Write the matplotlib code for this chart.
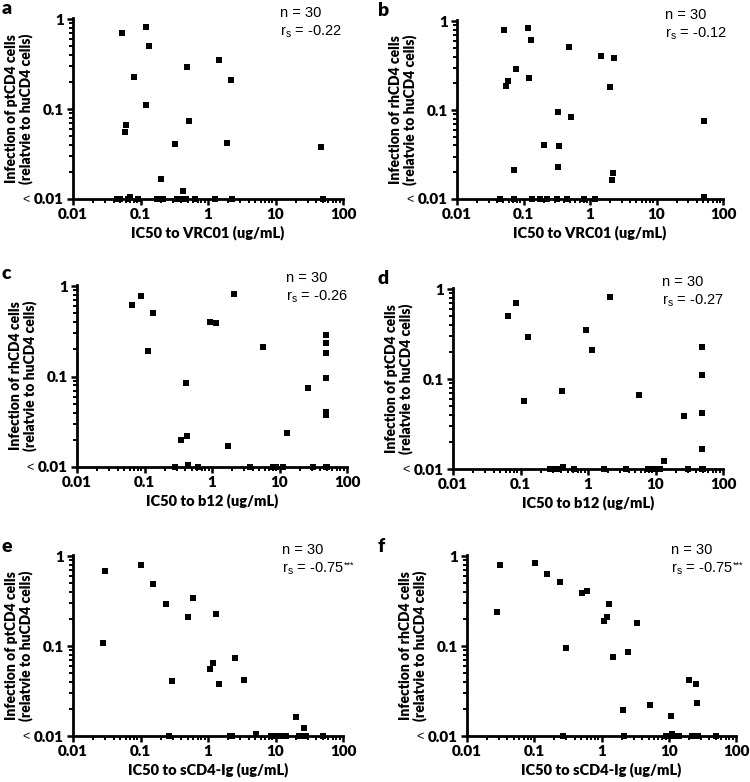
import matplotlib
matplotlib.use("Agg")
import matplotlib.pyplot as plt
from matplotlib.ticker import LogLocator, NullFormatter, FixedLocator, FixedFormatter

# ---------------- data ----------------
LOD = 0.01

# panel a: ptCD4 vs VRC01
a_x = [0.0536, 0.121, 0.134, 0.081, 0.121, 0.060, 0.058, 0.49, 0.52, 0.33, 1.44, 2.2, 1.93, 48,
       0.20, 0.42, 0.070,
       0.045, 0.05, 0.065, 0.093, 0.175, 0.218, 0.344, 0.42, 0.48, 0.64, 1.27, 2.24, 50]
a_y = [0.71, 0.81, 0.50, 0.23, 0.11, 0.067, 0.056, 0.29, 0.074, 0.041, 0.35, 0.21, 0.042, 0.038,
       0.0165, 0.0124, 0.0105,
       0.01, 0.01, 0.01, 0.01, 0.01, 0.01, 0.01, 0.01, 0.01, 0.01, 0.01, 0.01, 0.01]

# panel b: rhCD4 vs VRC01
b_x = [0.0503, 0.117, 0.13, 0.058, 0.055, 0.077, 0.119, 0.49, 1.46, 2.27, 1.98, 0.33, 0.52, 0.206,
       0.34, 0.33, 0.071, 2.2, 2.15, 52, 52,
       0.045, 0.071, 0.134, 0.179, 0.225, 0.32, 0.45, 0.80, 1.2]
b_y = [0.79, 0.83, 0.62, 0.21, 0.185, 0.29, 0.23, 0.51, 0.41, 0.39, 0.18, 0.095, 0.084, 0.040,
       0.039, 0.023, 0.021, 0.0195, 0.0164, 0.075, 0.0105,
       0.01, 0.01, 0.01, 0.01, 0.01, 0.01, 0.01, 0.01, 0.01]

# panel c: rhCD4 vs b12
c_x = [0.066, 0.088, 0.132, 0.113, 2.14, 0.92, 1.15, 0.41, 5.6, 26, 49, 49, 49, 49, 49, 49,
       0.35, 0.42, 1.7, 13, 0.44,
       0.28, 0.62, 3.7, 8.0, 9.0, 11.3, 31, 49, 50]
c_y = [0.62, 0.78, 0.50, 0.19, 0.82, 0.40, 0.39, 0.085, 0.21, 0.075, 0.29, 0.235, 0.18, 0.096, 0.041, 0.038,
       0.0197, 0.0223, 0.017, 0.024, 0.0105,
       0.01, 0.01, 0.01, 0.01, 0.01, 0.01, 0.01, 0.01, 0.01]

# panel d: ptCD4 vs b12
d_x = [0.0656, 0.087, 0.131, 0.113, 2.15, 0.92, 1.16, 0.41, 5.65, 26, 49, 49, 49, 49, 13.2, 0.42,
       0.27, 0.30, 0.33, 0.36, 0.62, 1.73, 3.63, 7.8, 8.8, 10.8, 11.5, 30.8, 48.7, 50]
d_y = [0.50, 0.71, 0.29, 0.057, 0.81, 0.35, 0.21, 0.074, 0.067, 0.039, 0.23, 0.11, 0.042, 0.0165, 0.0123, 0.0105,
       0.01, 0.01, 0.01, 0.01, 0.01, 0.01, 0.01, 0.01, 0.01, 0.01, 0.01, 0.01, 0.01, 0.01]

# panel e: ptCD4 vs sCD4-Ig
e_x = [0.0297, 0.0278, 0.102, 0.152, 0.239, 0.51, 0.59, 1.30, 0.294, 1.20, 1.08, 1.47, 2.5, 3.4,
       20.3, 26.5, 5.2,
       0.26, 2.1, 2.3, 8.5, 9.5, 10.5, 11.5, 13, 14.5, 22, 25, 28, 50]
e_y = [0.69, 0.108, 0.79, 0.49, 0.29, 0.21, 0.34, 0.225, 0.041, 0.065, 0.056, 0.038, 0.073, 0.042,
       0.0163, 0.0122, 0.0105,
       0.01, 0.01, 0.01, 0.01, 0.01, 0.01, 0.01, 0.01, 0.01, 0.01, 0.01, 0.01, 0.01]

# panel f: rhCD4 vs sCD4-Ig
f_x = [0.0306, 0.0283, 0.1026, 0.154, 0.242, 0.52, 0.61, 1.29, 1.19, 1.09, 3.4, 0.297, 1.48, 2.51,
       2.1, 5.2, 20.1, 25.5, 26.7, 10.8, 11.2,
       0.266, 2.16, 9.0, 10, 12.5, 14, 22, 27, 50]
f_y = [0.79, 0.237, 0.83, 0.63, 0.51, 0.39, 0.41, 0.29, 0.21, 0.19, 0.18, 0.095, 0.075, 0.085,
       0.0197, 0.022, 0.0416, 0.038, 0.0233, 0.0166, 0.0105,
       0.01, 0.01, 0.01, 0.01, 0.01, 0.01, 0.01, 0.01, 0.01]

panel_letters = ["a", "b", "c", "d", "e", "f"]
x_labels = ["IC50 to VRC01 (ug/mL)", "IC50 to VRC01 (ug/mL)",
            "IC50 to b12 (ug/mL)", "IC50 to b12 (ug/mL)",
            "IC50 to sCD4-Ig (ug/mL)", "IC50 to sCD4-Ig (ug/mL)"]
y_labels = ["Infection of ptCD4 cells\n(relatvie to huCD4 cells)",
            "Infection of rhCD4 cells\n(relatvie to huCD4 cells)",
            "Infection of rhCD4 cells\n(relatvie to huCD4 cells)",
            "Infection of ptCD4 cells\n(relatvie to huCD4 cells)",
            "Infection of ptCD4 cells\n(relatvie to huCD4 cells)",
            "Infection of rhCD4 cells\n(relatvie to huCD4 cells)"]
n_values = [30, 30, 30, 30, 30, 30]
rs_values = ["-0.22", "-0.12", "-0.26", "-0.27", "-0.75", "-0.75"]
rs_stars = ["", "", "", "", "***", "***"]
x_ticks = [0.01, 0.1, 1, 10, 100]
x_ticklabels = ["0.01", "0.1", "1", "10", "100"]
y_ticks = [0.01, 0.1, 1]
y_ticklabels = ["0.01", "0.1", "1"]

xs = [a_x, b_x, c_x, d_x, e_x, f_x]
ys = [a_y, b_y, c_y, d_y, e_y, f_y]

# ---------------- layout ----------------
W, H = 750, 782
plt.rcParams['font.family'] = ['Lato', 'DejaVu Sans']
plt.rcParams['mathtext.fontset'] = 'custom'
plt.rcParams['mathtext.rm'] = 'Liberation Sans'
plt.rcParams['mathtext.it'] = 'Liberation Sans'

fig = plt.figure(figsize=(W / 100, H / 100), dpi=100)

# axes boxes in pixels: left, right, top, bottom
boxes = [(73, 343, 18, 199), (457, 723, 20, 199),
         (77, 347, 285, 467), (453, 723, 288, 469),
         (73, 343, 555, 736), (467, 736, 555, 736)]
letter_pos = [(2, 9), (378, 11), (2, 274), (378, 278), (2, 546), (378, 546)]
ann_pos = [(280, 13), (665, 15), (286, 278), (662, 282), (282, 550), (671, 550)]

NOTE_FONT = ['Liberation Sans', 'DejaVu Sans']


def fx(px):
    return px / W


def fy(py):
    return 1 - py / H


for i in range(6):
    l, r, t, b = boxes[i]
    ax = fig.add_axes([fx(l), fy(b), (r - l) / W, (b - t) / H])
    ax.plot(xs[i], ys[i], linestyle='none', marker='s', ms=5.0, color='black',
            markeredgewidth=0, clip_on=False, zorder=5)
    ax.set_xscale('log')
    ax.set_yscale('log')
    ax.set_xlim(0.01, 100)
    ax.set_ylim(0.01, 1.03)
    for s in ['top', 'right']:
        ax.spines[s].set_visible(False)
    for s in ['left', 'bottom']:
        ax.spines[s].set_linewidth(2.0)
    ax.xaxis.set_major_locator(FixedLocator(x_ticks))
    ax.xaxis.set_major_formatter(FixedFormatter(x_ticklabels))
    ax.xaxis.set_minor_locator(LogLocator(base=10, subs=range(2, 10)))
    ax.xaxis.set_minor_formatter(NullFormatter())
    ax.yaxis.set_major_locator(FixedLocator(y_ticks))
    ax.yaxis.set_major_formatter(FixedFormatter(y_ticklabels))
    ax.yaxis.set_minor_locator(LogLocator(base=10, subs=range(2, 10)))
    ax.yaxis.set_minor_formatter(NullFormatter())
    ax.tick_params(which='major', direction='out', length=4.5, width=1.8,
                   labelsize=11, pad=2)
    ax.tick_params(which='minor', direction='out', length=3, width=1.4)
    for lab in ax.get_xticklabels() + ax.get_yticklabels():
        lab.set_fontweight('heavy')
    ax.set_xlabel(x_labels[i], fontsize=10.5, fontweight='heavy', labelpad=3)
    ax.set_ylabel(y_labels[i], fontsize=10, fontweight='heavy',
                  linespacing=1.05)
    ax.yaxis.set_label_coords(-40 / (r - l), 0.5)
    ax.annotate("<", xy=(0, LOD), xycoords=('axes fraction', 'data'),
                xytext=(-34, -1), textcoords='offset points', ha='center',
                va='center', fontsize=9, family=NOTE_FONT)

    lx, ly = letter_pos[i]
    fig.text(fx(lx), fy(ly), panel_letters[i], fontsize=14, fontweight='heavy',
             va='center', ha='left')
    nx, ny = ann_pos[i]
    fig.text(fx(nx), fy(ny), f"n = {n_values[i]}", fontsize=10.5,
             family=NOTE_FONT, va='center', ha='left')
    rs_txt = r"r$_{\mathrm{s}}$ = " + rs_values[i]
    t_rs = fig.text(fx(nx), fy(ny + 19), rs_txt, fontsize=10.5,
                    family=NOTE_FONT, va='center', ha='left')
    if rs_stars[i]:
        ax.annotate(rs_stars[i], xy=(1.0, 0.75), xycoords=t_rs,
                    ha='left', va='center', fontsize=6.5, family=NOTE_FONT,
                    annotation_clip=False)

fig.savefig("out.png", dpi=100)
